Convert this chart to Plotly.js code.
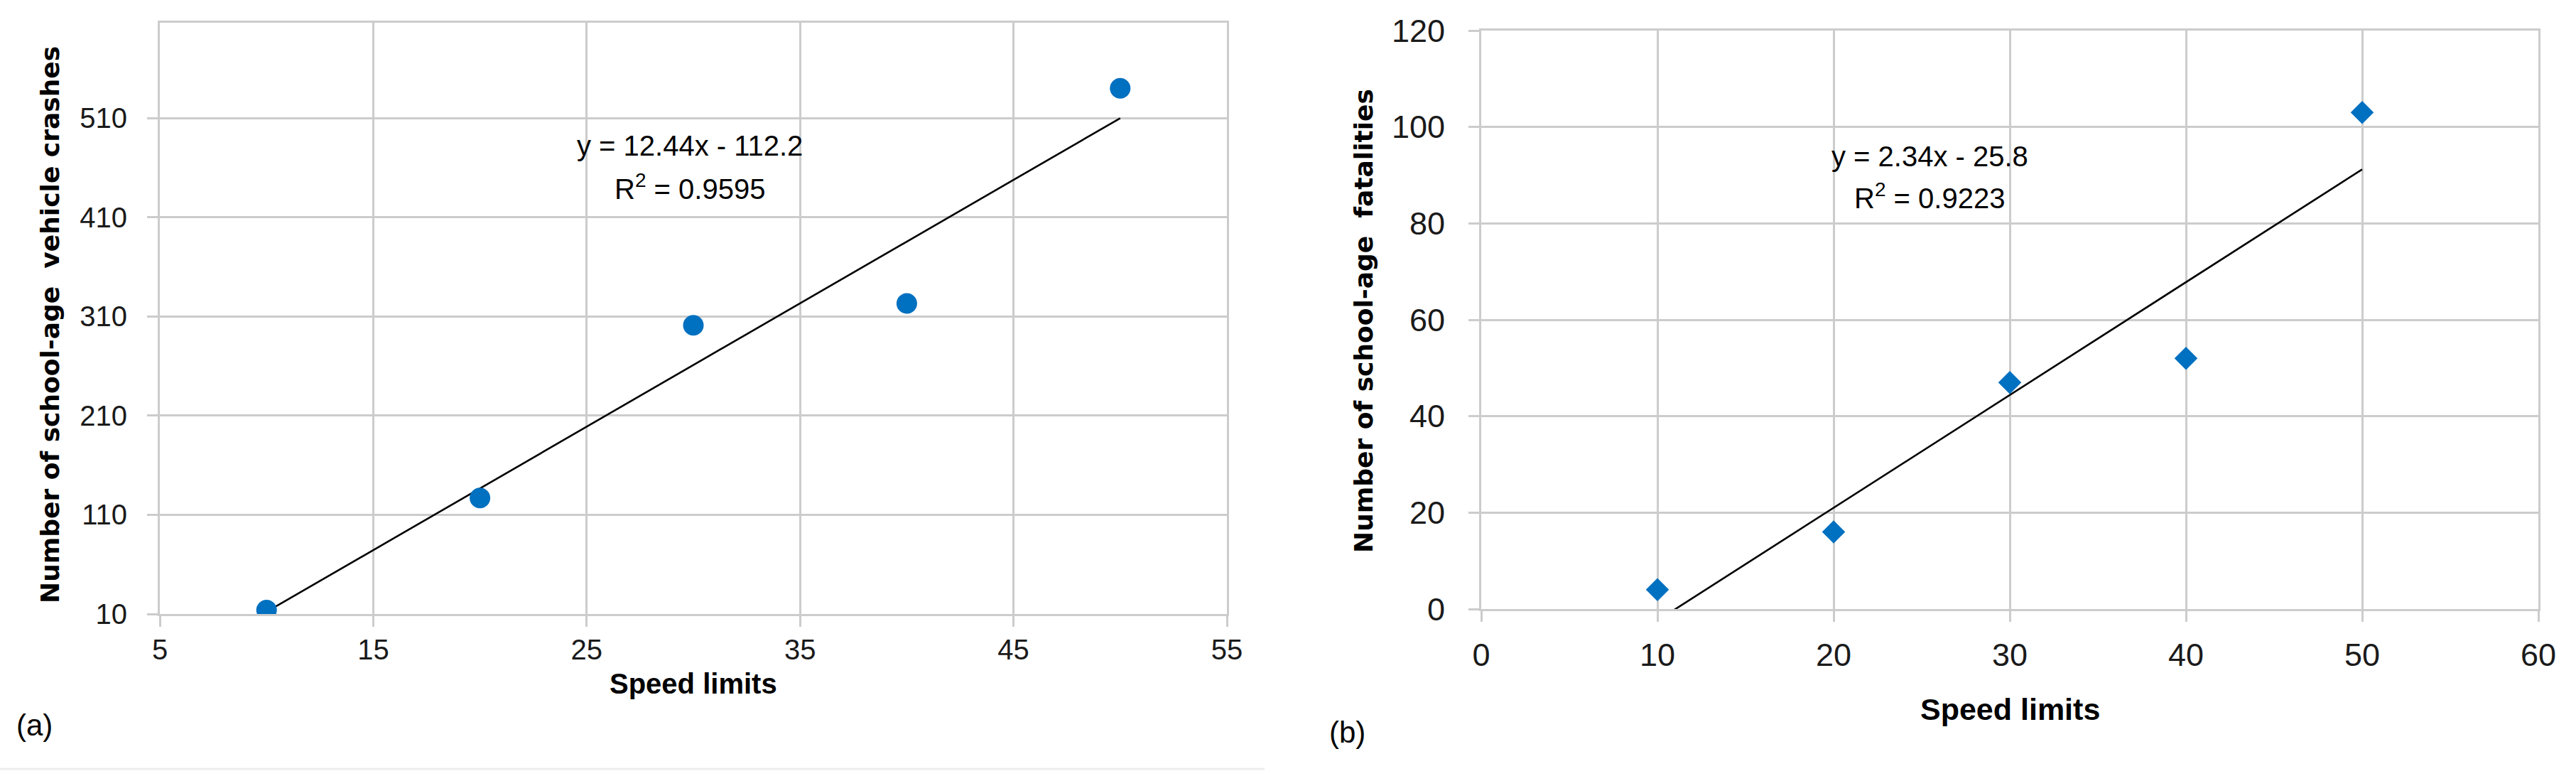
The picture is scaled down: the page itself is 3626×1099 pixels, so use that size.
<!DOCTYPE html>
<html>
<head>
<meta charset="utf-8">
<script src="https://cdn.plot.ly/plotly-3.0.1.min.js"></script>
<style>
  body { margin: 0; background: #fff; }
  #chart { width: 3626px; height: 1099px; }
</style>
</head>
<body>
<div id="chart"></div>
<script>
// speed limits (x) shared by both panels
var speedLimits = [10, 20, 30, 40, 50];
// (a) school-age vehicle crashes
var crashes = [14, 127, 301, 323, 540];
// (b) school-age fatalities
var fatalities = [4, 16, 47, 52, 103];

// trendline coefficients as printed on the chart
var slopeA = 12.44, interceptA = -112.2, r2A = '0.9595';
var slopeB = 2.34, interceptB = -25.8, r2B = '0.9223';

var W = 3626, H = 1099;
function px(x) { return x / W; }
function py(y) { return 1 - y / H; }

var blue = '#0070C0';
var grid = '#CCCCCC';
var tickFont = 'Liberation Sans, Arial, sans-serif';
var titleFont = 'DejaVu Sans, Verdana, sans-serif';

function lineEnds(slope, icpt) {
    var xs = [speedLimits[0], speedLimits[speedLimits.length - 1]];
    return { x: xs, y: xs.map(function(v) { return slope * v + icpt; }) };
}
var trendA = lineEnds(slopeA, interceptA);
var trendB = lineEnds(slopeB, interceptB);

var data = [
    { type: 'scatter', mode: 'lines', x: trendA.x, y: trendA.y, xaxis: 'x', yaxis: 'y',
      line: { color: '#000', width: 2.6 }, hoverinfo: 'skip' },
    { type: 'scatter', mode: 'markers', x: speedLimits, y: crashes, xaxis: 'x', yaxis: 'y',
      marker: { symbol: 'circle', size: 29, color: blue, line: { width: 0 } } },
    { type: 'scatter', mode: 'lines', x: trendB.x, y: trendB.y, xaxis: 'x2', yaxis: 'y2',
      line: { color: '#000', width: 2.6 }, hoverinfo: 'skip' },
    { type: 'scatter', mode: 'markers', x: speedLimits, y: fatalities, xaxis: 'x2', yaxis: 'y2',
      marker: { symbol: 'diamond', size: 25, color: blue, line: { width: 0 } } }
];

function axisBase(size) {
    return {
        showgrid: true, gridcolor: grid, gridwidth: 3,
        showline: true, mirror: true, linecolor: grid, linewidth: 3,
        ticks: 'outside', ticklen: 15, tickwidth: 3, tickcolor: grid,
        zeroline: false, fixedrange: true,
        tickfont: { family: tickFont, size: size, color: '#1a1a1a' }
    };
}

var xa = Object.assign(axisBase(40), { domain: [px(225), px(1727)], range: [5, 55], tick0: 5, dtick: 10, anchor: 'y', ticklabelstandoff: -2 });
var ya = Object.assign(axisBase(40), { domain: [py(864), py(32)], range: [10, 606], tick0: 10, dtick: 100, anchor: 'x', ticklabelstandoff: 20 });
var xb = Object.assign(axisBase(45), { domain: [px(2085), px(3573)], range: [0, 60], tick0: 0, dtick: 10, anchor: 'y2', ticklabelstandoff: 8 });
var yb = Object.assign(axisBase(45), { domain: [py(857), py(43)], range: [0, 120], tick0: 0, dtick: 20, anchor: 'x2', ticklabelstandoff: 24 });

var nb = '\u00a0';
function note(text, x, y, size, family, extra) {
    return Object.assign({
        text: text, x: px(x), y: py(y), xref: 'paper', yref: 'paper',
        xanchor: 'center', yanchor: 'middle', showarrow: false,
        font: { family: family, size: size, color: '#000' }
    }, extra || {});
}

var annotations = [
    // y titles
    note('<b>Number of school-age' + nb + nb + 'vehicle crashes</b>', 70, 457, 36, titleFont, { textangle: -90 }),
    note('<b>Number of school-age' + nb + nb + 'fatalities</b>', 1920, 452, 36, titleFont, { textangle: -90 }),
    // x titles
    note('<b>Speed limits</b>', 976, 962, 40, tickFont),
    note('<b>Speed limits</b>', 2829, 998, 43, tickFont),
    // panel letters
    note('(a)', 48, 1020, 42, tickFont),
    note('(b)', 1897, 1030, 42, tickFont),
    // trendline labels
    note('y = ' + slopeA + 'x - ' + Math.abs(interceptA), 971, 205, 40, tickFont),
    note('R<sup>2</sup> = ' + r2A, 971, 263, 40, tickFont),
    note('y = ' + slopeB + 'x - ' + Math.abs(interceptB), 2716, 220, 40, tickFont),
    note('R<sup>2</sup> = ' + r2B, 2716, 276, 40, tickFont)
];

var shapes = [
    // white label boxes over the gridlines
    { type: 'rect', xref: 'paper', yref: 'paper', layer: 'between',
      x0: px(789), x1: px(1149), y0: py(155), y1: py(297), fillcolor: '#fff', line: { width: 0 } },
    { type: 'rect', xref: 'paper', yref: 'paper', layer: 'between',
      x0: px(2565), x1: px(2870), y0: py(188), y1: py(305), fillcolor: '#fff', line: { width: 0 } },
    // faint frame line under panel (a)
    { type: 'line', xref: 'paper', yref: 'paper', layer: 'below',
      x0: 0, x1: px(1780), y0: py(1082), y1: py(1082), line: { color: '#EDEDED', width: 3 } }
];

var layout = {
    width: W, height: H,
    margin: { l: 0, r: 0, t: 0, b: 0 },
    paper_bgcolor: '#fff', plot_bgcolor: '#fff',
    showlegend: false,
    xaxis: xa, yaxis: ya, xaxis2: xb, yaxis2: yb,
    annotations: annotations,
    shapes: shapes
};

Plotly.newPlot('chart', data, layout, { staticPlot: true });
</script>
</body>
</html>
